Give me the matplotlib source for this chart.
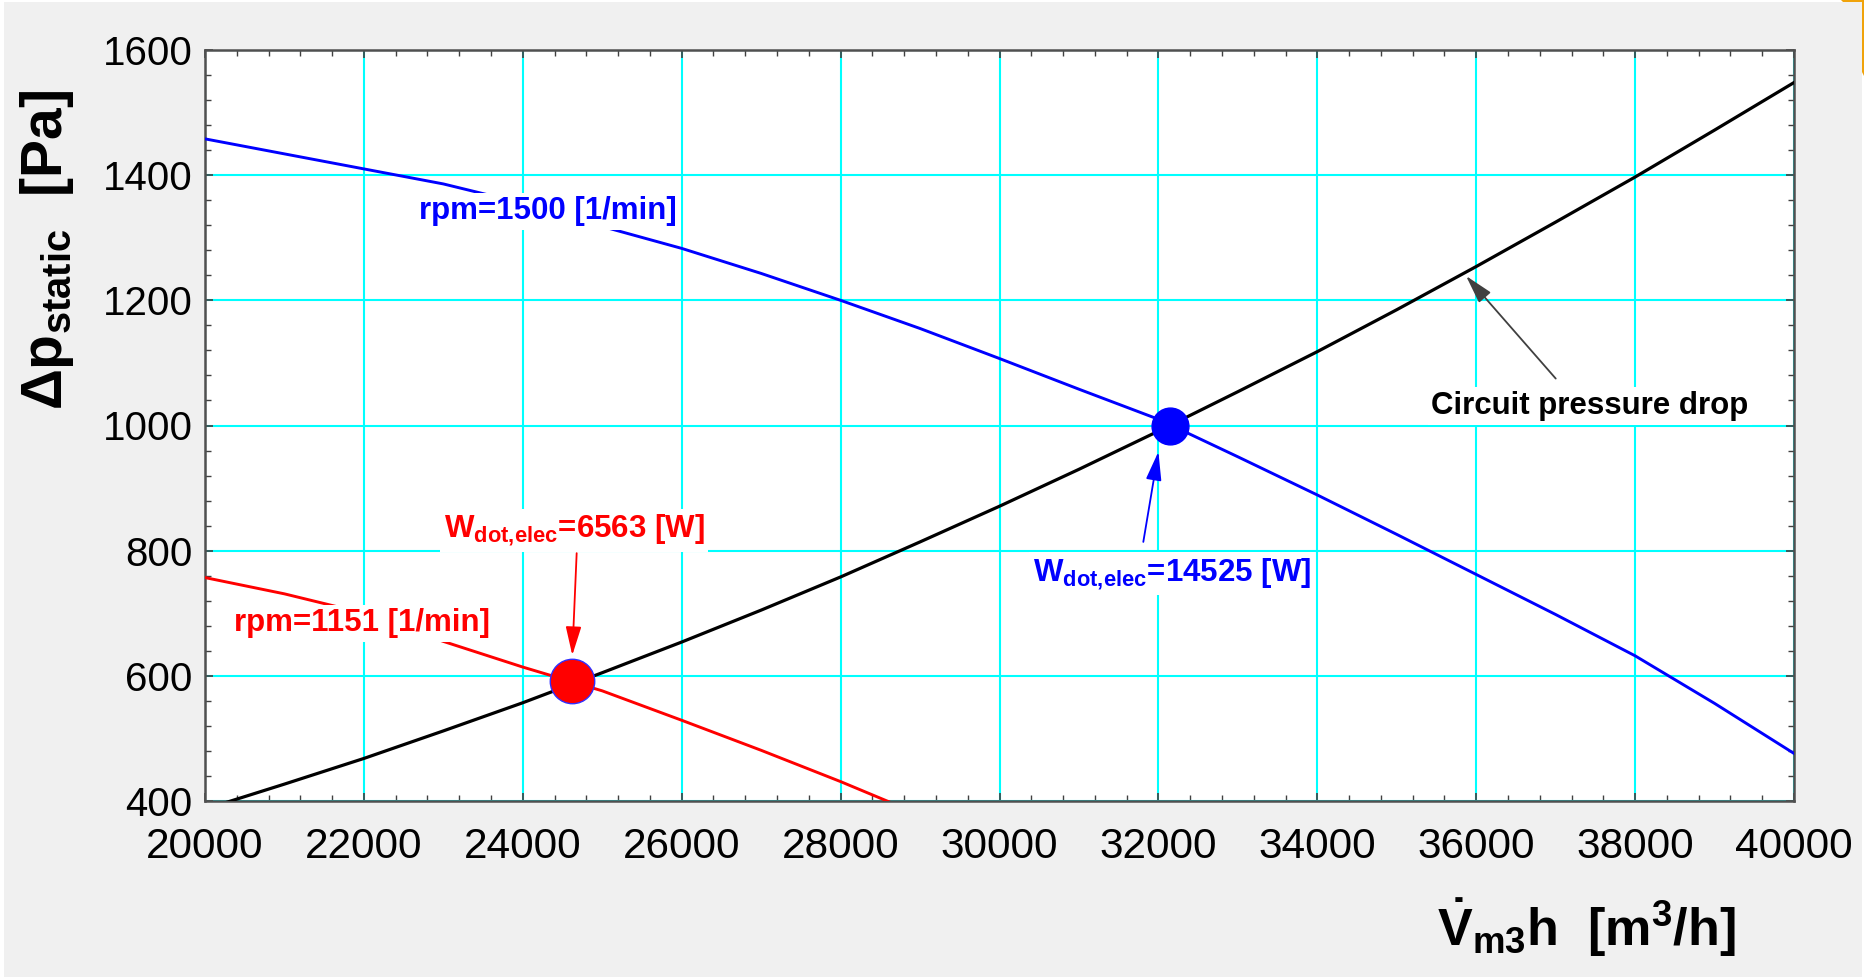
import matplotlib
matplotlib.use("Agg")
import matplotlib.pyplot as plt
from matplotlib.patches import Rectangle, Polygon
from matplotlib.ticker import MultipleLocator

# flow rate [m3/h] and static pressure [Pa]
flow = [20000, 21000, 22000, 23000, 24000, 25000, 26000, 27000, 28000, 29000, 30000,
        31000, 32000, 33000, 34000, 35000, 36000, 37000, 38000, 39000, 40000]
dp_circuit = [387, 427, 468, 512, 557, 605, 654, 705, 758, 814, 871,
              930, 991, 1054, 1118, 1185, 1254, 1325, 1397, 1472, 1548]
dp_rpm1500 = [1458, 1434, 1410, 1386, 1355, 1318, 1283, 1243, 1200, 1155, 1107,
              1058, 1010, 950, 889, 826, 762, 698, 632, 556, 476]

flow_low = [20000, 21000, 22000, 23000, 24000, 25000, 26000, 27000, 28000, 29000]
dp_rpm1151 = [757, 731, 700, 655, 614, 576, 529, 481, 431, 378]

op_flow = [24620, 32150]
op_dp = [592, 1000]
op_power = [6563, 14525]

x_ticks = [20000, 22000, 24000, 26000, 28000, 30000, 32000, 34000, 36000, 38000, 40000]
y_ticks = [400, 600, 800, 1000, 1200, 1400, 1600]

BLUE = '#0000ff'
RED = '#ff0000'
CYAN = '#00ffff'
W, H = 1865, 977


def label(ax, x, y, s, color):
    ax.text(x, y, s, color=color, fontsize=22.5, fontweight='bold', ha='center', va='center',
            zorder=6, bbox=dict(boxstyle='square,pad=0.12', fc='white', ec='none'))


def arrow(ax, tail, head, color):
    ax.annotate('', xy=head, xytext=tail, zorder=7,
                arrowprops=dict(arrowstyle='-|>,head_length=1.1,head_width=0.3', color=color,
                                lw=1.3, mutation_scale=16, shrinkA=0, shrinkB=0))


def px(x, y):
    # screen pixel (from top left) -> figure fraction
    return (x / W, 1 - y / H)


def main():
    plt.rcParams['font.family'] = ['Liberation Sans', 'DejaVu Sans']
    plt.rcParams['mathtext.fontset'] = 'custom'
    plt.rcParams['mathtext.rm'] = 'Liberation Sans'
    plt.rcParams['mathtext.it'] = 'Liberation Sans:italic'
    plt.rcParams['mathtext.bf'] = 'Liberation Sans:bold'

    fig = plt.figure(figsize=(W / 100, H / 100), dpi=100, facecolor='white')
    fig.add_artist(Rectangle(px(4, 977), 1858 / W, 975 / H, transform=fig.transFigure,
                             fc='#f0f0f0', ec='none', zorder=-10))
    # bit of an orange frame in the top right corner of the screenshot
    fig.add_artist(Polygon([px(1841, 0), px(1865, 0), px(1865, 78), px(1862, 72),
                            px(1862, 2), px(1843, 2)], closed=True, transform=fig.transFigure,
                           fc='#f0a30a', ec='none', zorder=-9))

    ax = fig.add_axes([205 / W, 1 - 801 / H, 1589 / W, 751 / H])
    ax.set_facecolor('white')

    ax.plot(flow, dp_circuit, color='black', lw=2.3, zorder=3)
    ax.plot(flow, dp_rpm1500, color=BLUE, lw=2.1, zorder=3)
    ax.plot(flow_low, dp_rpm1151, color=RED, lw=2.1, zorder=3)

    ax.plot(op_flow[0], op_dp[0], 'o', ms=32, mfc=RED, mec='#3030ff', mew=1.0, zorder=5)
    ax.plot(op_flow[1], op_dp[1], 'o', ms=26.5, mfc=BLUE, mec=BLUE, mew=1.0, zorder=5)

    label(ax, 24318, 1342, 'rpm=1500 [1/min]', BLUE)
    label(ax, 21980, 684, 'rpm=1151 [1/min]', RED)
    label(ax, 24645, 832, r'$\mathbf{W_{dot,\!elec}}$=%d [W]' % op_power[0], RED)
    label(ax, 32167, 763, r'$\mathbf{W_{dot,\!elec}}$=%d [W]' % op_power[1], BLUE)
    label(ax, 37432, 1031, 'Circuit pressure drop', 'black')

    arrow(ax, (24678, 796), (24623, 633), RED)
    arrow(ax, (31810, 814), (32000, 958), BLUE)
    arrow(ax, (37001, 1075), (35872, 1239), '#404040')

    ax.set_xlim(20000, 40000)
    ax.set_ylim(400, 1600)
    ax.set_xticks(x_ticks)
    ax.set_yticks(y_ticks)
    ax.xaxis.set_minor_locator(MultipleLocator(400))
    ax.yaxis.set_minor_locator(MultipleLocator(40))
    ax.grid(True, which='major', color=CYAN, lw=1.5, zorder=1)
    ax.set_axisbelow(True)
    ax.tick_params(which='both', direction='in', top=True, right=True, color='#404040')
    ax.tick_params(which='major', length=6, width=1.2)
    ax.tick_params(which='minor', length=4, width=1.0)
    ax.tick_params(axis='y', pad=9, labelsize=29)
    ax.tick_params(axis='x', pad=19, labelsize=30.5)
    for sp in ax.spines.values():
        sp.set_color('#505050')
        sp.set_linewidth(1.8)

    fig.text(*px(47, 250), r'$\mathbf{\Delta p_{static}}$  [Pa]', rotation=90,
             fontsize=41, fontweight='bold', ha='center', va='center')
    fig.text(*px(1586, 928), r'$\mathbf{\dot{V}_{m3}h}$  [m$^\mathbf{3}$/h]',
             fontsize=37.5, fontweight='bold', ha='center', va='center')

    plt.savefig('out.png', dpi=100, facecolor=fig.get_facecolor())


if __name__ == "__main__":
    main()
